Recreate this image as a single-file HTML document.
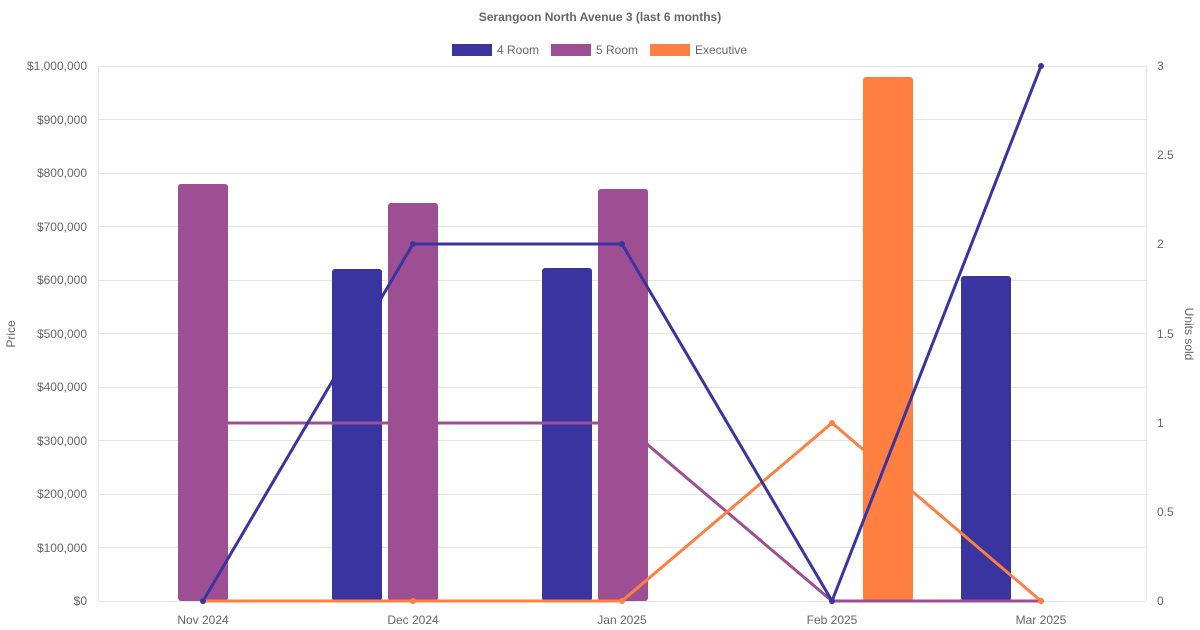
<!DOCTYPE html>
<html><head><meta charset="utf-8"><style>
html,body{margin:0;padding:0;background:#fff;}
svg{display:block;font-family:"Liberation Sans",sans-serif;}
</style></head><body>
<svg width="1200" height="630" viewBox="0 0 1200 630">
<text x="600" y="21" text-anchor="middle" font-size="12" font-weight="bold" fill="#666">Serangoon North Avenue 3 (last 6 months)</text>
<rect x="452" y="44" width="40" height="12" fill="#3a34a0"/><text x="497" y="54" font-size="12" fill="#666">4 Room</text>
<rect x="551" y="44" width="40" height="12" fill="#9e4f93"/><text x="596" y="54" font-size="12" fill="#666">5 Room</text>
<rect x="650" y="44" width="40" height="12" fill="#ff7f40"/><text x="695" y="54" font-size="12" fill="#666">Executive</text>
<g stroke="#e5e5e5" stroke-width="1">
<line x1="98" y1="66.5" x2="1146" y2="66.5"/><line x1="98" y1="119.5" x2="1146" y2="119.5"/><line x1="98" y1="173.5" x2="1146" y2="173.5"/><line x1="98" y1="226.5" x2="1146" y2="226.5"/><line x1="98" y1="280.5" x2="1146" y2="280.5"/><line x1="98" y1="333.5" x2="1146" y2="333.5"/><line x1="98" y1="387.5" x2="1146" y2="387.5"/><line x1="98" y1="440.5" x2="1146" y2="440.5"/><line x1="98" y1="494.5" x2="1146" y2="494.5"/><line x1="98" y1="547.5" x2="1146" y2="547.5"/><line x1="98" y1="601.5" x2="1146" y2="601.5"/>
<line x1="98.5" y1="66" x2="98.5" y2="601"/><line x1="1146.5" y1="66" x2="1146.5" y2="601"/>
</g>
<g font-size="12" fill="#666" text-anchor="end">
<text x="87" y="70">$1,000,000</text><text x="87" y="124">$900,000</text><text x="87" y="177">$800,000</text><text x="87" y="231">$700,000</text><text x="87" y="284">$600,000</text><text x="87" y="338">$500,000</text><text x="87" y="391">$400,000</text><text x="87" y="445">$300,000</text><text x="87" y="498">$200,000</text><text x="87" y="552">$100,000</text><text x="87" y="605">$0</text>
</g>
<g font-size="12" fill="#666">
<text x="1157" y="70">3</text><text x="1157" y="159">2.5</text><text x="1157" y="248">2</text><text x="1157" y="338">1.5</text><text x="1157" y="427">1</text><text x="1157" y="516">0.5</text><text x="1157" y="605">0</text>
</g>
<g font-size="12" fill="#666" text-anchor="middle">
<text x="203" y="624">Nov 2024</text><text x="413" y="624">Dec 2024</text><text x="622" y="624">Jan 2025</text><text x="832" y="624">Feb 2025</text><text x="1041" y="624">Mar 2025</text>
</g>
<text transform="translate(15,334) rotate(-90)" text-anchor="middle" font-size="12" fill="#666">Price</text>
<text transform="translate(1185,334) rotate(90)" text-anchor="middle" font-size="12" fill="#666">Units sold</text>
<g>
<rect x="178" y="184" width="50" height="417" rx="3" fill="#9e4f93"/>
<rect x="332" y="269" width="50" height="332" rx="3" fill="#3a34a0"/>
<rect x="388" y="203" width="50" height="398" rx="3" fill="#9e4f93"/>
<rect x="542" y="268" width="50" height="333" rx="3" fill="#3a34a0"/>
<rect x="598" y="189" width="50" height="412" rx="3" fill="#9e4f93"/>
<rect x="863" y="77" width="50" height="524" rx="3" fill="#ff7f40"/>
<rect x="961" y="276" width="50" height="325" rx="3" fill="#3a34a0"/>
</g>
<g fill="none" stroke-width="3">
<polyline points="203,423 413,423 622,423 832,601 1041,601" stroke="#9e4f93"/>
<polyline points="203,601 413,601 622,601 832,423 1041,601" stroke="#ff7f40"/>
<polyline points="203,601 413,244 622,244 832,601 1041,66" stroke="#3a34a0"/>
</g>
<g>
<circle cx="203" cy="423" r="3" fill="#9e4f93"/><circle cx="413" cy="423" r="3" fill="#9e4f93"/><circle cx="622" cy="423" r="3" fill="#9e4f93"/><circle cx="832" cy="601" r="3" fill="#9e4f93"/><circle cx="1041" cy="601" r="3" fill="#9e4f93"/>
<circle cx="203" cy="601" r="3" fill="#ff7f40"/><circle cx="413" cy="601" r="3" fill="#ff7f40"/><circle cx="622" cy="601" r="3" fill="#ff7f40"/><circle cx="832" cy="423" r="3" fill="#ff7f40"/><circle cx="1041" cy="601" r="3" fill="#ff7f40"/>
<circle cx="203" cy="601" r="3" fill="#3a34a0"/><circle cx="413" cy="244" r="3" fill="#3a34a0"/><circle cx="622" cy="244" r="3" fill="#3a34a0"/><circle cx="832" cy="601" r="3" fill="#3a34a0"/><circle cx="1041" cy="66" r="3" fill="#3a34a0"/>
</g>
</svg>
</body></html>
